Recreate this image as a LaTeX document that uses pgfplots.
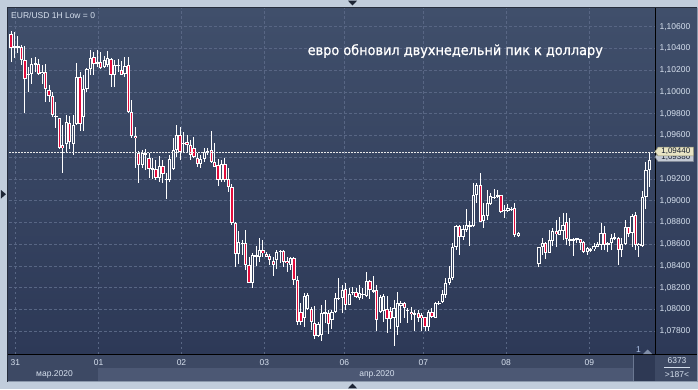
\documentclass[border=0pt]{standalone}
\usepackage{pgfplots}
\pgfplotsset{compat=1.18}
\usepackage{pgfplotstable}
\usepackage{fontspec}
\setmainfont{Liberation Sans}
\newfontfamily\annfont[FakeStretch=0.92, FakeBold=0.8]{DejaVu Sans}

\pgfdeclarelayer{background}
\pgfsetlayers{background,main}

\definecolor{framecol}{RGB}{193,205,220}
\definecolor{bgtop}{RGB}{64,79,107}
\definecolor{bgbot}{RGB}{45,57,87}
\definecolor{timecol}{RGB}{61,73,100}
\definecolor{bandcol}{RGB}{76,88,116}
\definecolor{gridcol}{RGB}{88,102,132}
\definecolor{candlered}{RGB}{226,12,60}
\definecolor{innerup}{RGB}{58,72,101}
\definecolor{innerlo}{RGB}{50,63,92}
\definecolor{labcol}{RGB}{214,224,238}
\definecolor{tagcol}{RGB}{232,228,196}
\definecolor{tagtwo}{RGB}{196,202,212}
\definecolor{darktri}{RGB}{29,37,53}
\definecolor{scrollcol}{RGB}{46,57,84}
\definecolor{scrollline}{RGB}{107,120,146}
\definecolor{borderdark}{RGB}{38,45,60}
\definecolor{borderlight}{RGB}{140,153,172}
\definecolor{pricecol}{RGB}{232,232,232}
\definecolor{onecol}{RGB}{176,196,232}
\definecolor{humpcol}{RGB}{128,142,168}
\definecolor{tagtext}{RGB}{20,28,44}
\definecolor{tagedge}{RGB}{120,128,140}
\definecolor{tagedgeone}{RGB}{138,138,112}

\pgfplotstableread{
k o h l c
0 1.10530 1.10560 1.10272 1.10407
1 1.10413 1.10554 1.10315 1.10419
2 1.10407 1.10514 1.10355 1.10425
3 1.10416 1.10432 1.10248 1.10294
4 1.10294 1.10425 1.09809 1.10125
5 1.10156 1.10232 1.10002 1.10171
6 1.10162 1.10318 1.10079 1.10263
7 1.10254 1.10324 1.10186 1.10263
8 1.10263 1.10309 1.10156 1.10162
9 1.10162 1.10248 1.10079 1.10186
10 1.10180 1.10254 1.09904 1.10027
11 1.10018 1.10064 1.09910 1.09966
12 1.09966 1.10002 1.09773 1.09788
13 1.09782 1.09904 1.09666 1.09770
14 1.09757 1.09763 1.09475 1.09488
15 1.09512 1.09696 1.09258 1.09481
16 1.09518 1.09788 1.09436 1.09720
17 1.09711 1.09782 1.09475 1.09537
18 1.09527 1.09788 1.09420 1.09702
19 1.09702 1.10263 1.09696 1.10140
20 1.10140 1.10186 1.09641 1.09711
21 1.09773 1.10156 1.09641 1.10027
22 1.10027 1.10223 1.10002 1.10211
23 1.10211 1.10386 1.10156 1.10318
24 1.10318 1.10370 1.10156 1.10254
25 1.10263 1.10386 1.10232 1.10270
26 1.10278 1.10370 1.10217 1.10223
27 1.10232 1.10333 1.10217 1.10294
28 1.10248 1.10377 1.10232 1.10315
29 1.10303 1.10315 1.10048 1.10156
30 1.10156 1.10294 1.10048 1.10248
31 1.10242 1.10309 1.10186 1.10248
32 1.10202 1.10284 1.10156 1.10156
33 1.10162 1.10324 1.10140 1.10242
34 1.10248 1.10324 1.09803 1.09813
35 1.09819 1.09926 1.09573 1.09595
36 1.09595 1.09681 1.09304 1.09573
37 1.09436 1.09457 1.09160 1.09328
38 1.09328 1.09466 1.09298 1.09436
39 1.09436 1.09475 1.09282 1.09420
40 1.09396 1.09436 1.09206 1.09292
41 1.09292 1.09389 1.09200 1.09298
42 1.09292 1.09374 1.09190 1.09212
43 1.09212 1.09414 1.09175 1.09322
44 1.09322 1.09374 1.09160 1.09242
45 1.09200 1.09251 1.09021 1.09190
46 1.09190 1.09420 1.09175 1.09389
47 1.09292 1.09573 1.09282 1.09466
48 1.09466 1.09696 1.09405 1.09604
49 1.09604 1.09681 1.09374 1.09445
50 1.09527 1.09635 1.09451 1.09537
51 1.09543 1.09604 1.09451 1.09512
52 1.09512 1.09558 1.09374 1.09420
53 1.09488 1.09589 1.09396 1.09405
54 1.09396 1.09436 1.09313 1.09334
55 1.09334 1.09420 1.09298 1.09380
56 1.09380 1.09481 1.09359 1.09445
57 1.09445 1.09481 1.09420 1.09457
58 1.09466 1.09641 1.09343 1.09359
59 1.09359 1.09527 1.09313 1.09313
60 1.09328 1.09389 1.09138 1.09190
61 1.09190 1.09374 1.09175 1.09343
62 1.09343 1.09389 1.09175 1.09190
63 1.09200 1.09298 1.09083 1.09129
64 1.09129 1.09150 1.08776 1.08792
65 1.08792 1.08807 1.08393 1.08507
66 1.08507 1.08720 1.08415 1.08617
67 1.08610 1.08640 1.08500 1.08605
68 1.08608 1.08730 1.08363 1.08409
69 1.08409 1.08485 1.08246 1.08246
70 1.08246 1.08516 1.08194 1.08500
71 1.08485 1.08583 1.08399 1.08497
72 1.08485 1.08654 1.08439 1.08546
73 1.08546 1.08638 1.08479 1.08516
74 1.08510 1.08531 1.08479 1.08485
75 1.08491 1.08510 1.08409 1.08454
76 1.08448 1.08479 1.08307 1.08409
77 1.08454 1.08546 1.08375 1.08531
78 1.08531 1.08546 1.08424 1.08537
79 1.08537 1.08546 1.08387 1.08439
80 1.08448 1.08485 1.08347 1.08424
81 1.08409 1.08485 1.08363 1.08470
82 1.08470 1.08479 1.08225 1.08271
83 1.08271 1.08307 1.07857 1.07887
84 1.07979 1.08056 1.07857 1.07887
85 1.07918 1.08148 1.07841 1.08123
86 1.08001 1.08148 1.07995 1.08133
87 1.08001 1.08025 1.07811 1.07887
88 1.07878 1.08031 1.07734 1.07759
89 1.07759 1.07887 1.07750 1.07872
90 1.07765 1.08041 1.07713 1.07970
91 1.07964 1.08087 1.07872 1.07970
92 1.07970 1.07995 1.07774 1.07866
93 1.07903 1.07995 1.07817 1.07979
94 1.07979 1.08148 1.07970 1.08102
95 1.08099 1.08286 1.08087 1.08108
96 1.08102 1.08225 1.07970 1.08179
97 1.08185 1.08240 1.07995 1.08041
98 1.08041 1.08203 1.08041 1.08142
99 1.08157 1.08203 1.08133 1.08163
100 1.08163 1.08194 1.08102 1.08111
101 1.08102 1.08225 1.08087 1.08148
102 1.08133 1.08194 1.08093 1.08142
103 1.08123 1.08347 1.08117 1.08261
104 1.08261 1.08271 1.08093 1.08180
105 1.08170 1.08307 1.08148 1.08179
106 1.08179 1.08225 1.07806 1.07907
107 1.07979 1.08133 1.07964 1.08111
108 1.07989 1.08142 1.07887 1.08123
109 1.08001 1.08123 1.07780 1.07909
110 1.07986 1.08025 1.07817 1.07909
111 1.07918 1.08087 1.07667 1.08010
112 1.07835 1.08163 1.07765 1.08056
113 1.08031 1.08078 1.07872 1.08062
114 1.08056 1.08071 1.07918 1.08010
115 1.07995 1.08010 1.07872 1.07989
116 1.07979 1.08025 1.07903 1.07958
117 1.07964 1.07995 1.07806 1.07961
118 1.07970 1.07995 1.07887 1.07918
119 1.07949 1.07964 1.07806 1.07918
120 1.07927 1.07933 1.07806 1.07841
121 1.07841 1.07995 1.07806 1.07979
122 1.07979 1.08010 1.07918 1.07933
123 1.07918 1.08071 1.07918 1.08056
124 1.08050 1.08078 1.08041 1.08062
125 1.08071 1.08179 1.08062 1.08142
126 1.08133 1.08295 1.08102 1.08246
127 1.08240 1.08399 1.08225 1.08292
128 1.08286 1.08614 1.08271 1.08577
129 1.08577 1.08776 1.08546 1.08767
130 1.08767 1.08776 1.08501 1.08669
131 1.08669 1.08776 1.08638 1.08737
132 1.08730 1.08920 1.08715 1.08776
133 1.08767 1.08813 1.08583 1.08776
134 1.08767 1.09166 1.08761 1.09052
135 1.09052 1.09160 1.08976 1.09144
136 1.09144 1.09258 1.08807 1.08807
137 1.08816 1.08976 1.08746 1.08868
138 1.08859 1.09098 1.08822 1.08976
139 1.08970 1.09068 1.08960 1.09043
140 1.09031 1.09104 1.09012 1.09037
141 1.09037 1.09098 1.09022 1.09052
142 1.09052 1.09052 1.08890 1.08899
143 1.08908 1.08960 1.08838 1.08914
144 1.08908 1.08970 1.08899 1.08930
145 1.08920 1.08945 1.08908 1.08926
146 1.08930 1.08976 1.08663 1.08685
147 1.08675 1.08715 1.08669 1.08706
153 1.08418 1.08577 1.08393 1.08571
154 1.08577 1.08654 1.08501 1.08608
155 1.08608 1.08623 1.08461 1.08522
156 1.08522 1.08730 1.08516 1.08638
157 1.08632 1.08746 1.08583 1.08724
158 1.08724 1.08822 1.08571 1.08691
159 1.08685 1.08847 1.08685 1.08730
160 1.08724 1.08890 1.08638 1.08778
161 1.08807 1.08890 1.08593 1.08645
162 1.08638 1.08838 1.08583 1.08645
163 1.08642 1.08654 1.08491 1.08645
164 1.08645 1.08660 1.08608 1.08654
165 1.08645 1.08645 1.08546 1.08614
166 1.08623 1.08632 1.08516 1.08531
167 1.08531 1.08571 1.08501 1.08562
168 1.08559 1.08562 1.08531 1.08546
169 1.08553 1.08608 1.08540 1.08583
170 1.08577 1.08623 1.08571 1.08599
171 1.08593 1.08792 1.08546 1.08706
172 1.08706 1.08767 1.08546 1.08593
173 1.08602 1.08623 1.08531 1.08608
174 1.08608 1.08694 1.08546 1.08654
175 1.08645 1.08706 1.08638 1.08663
176 1.08654 1.08669 1.08409 1.08546
177 1.08546 1.08654 1.08485 1.08602
178 1.08602 1.08822 1.08593 1.08755
179 1.08755 1.08761 1.08669 1.08694
180 1.08700 1.08878 1.08577 1.08859
181 1.08868 1.08899 1.08546 1.08593
182 1.08583 1.08608 1.08485 1.08602
183 1.08583 1.09092 1.08577 1.09031
184 1.09031 1.09354 1.08925 1.09287
185 1.09287 1.09440 1.09124 1.09380
}\candles

\begin{document}
\begin{tikzpicture}
\begin{axis}[
  at={(0pt,0pt)}, anchor=south west,
  scale only axis, width=646bp, height=346bp,
  xmin=-0.6, xmax=186.65, ymin=1.07590, ymax=1.10772,
  axis line style={draw=none},
  major tick length=0pt,
  grid=major,
  major grid style={gridcol, line width=0.8bp, dash pattern=on 2.5bp off 2.5bp},
  xtick={1.23,25.4,49.4,73.4,96.6,119.5,143.5,167.6},
  xticklabels={31,01,02,03,06,07,08,09},
  ytick={1.078,1.080,1.082,1.084,1.086,1.088,1.090,1.092,1.096,1.098,1.100,1.102,1.104,1.106},
  extra y ticks={1.094},
  extra y tick labels={},
  extra tick style={grid=major, major tick length=0pt},
  yticklabel pos=right,
  ticklabel style={font=\fontsize{8.5bp}{10bp}\selectfont, text=labcol},
  yticklabel style={anchor=west, xshift=1bp, /pgf/number format/.cd, fixed, fixed zerofill, precision=5, use comma, 1000 sep={}, assume math mode=true},
  xticklabel style={yshift=-2.5bp},
  clip=true,
]
\coordinate (axSW) at (rel axis cs:0,0);
% wicks
\addplot[draw=none, mark=none, error bars/.cd, y dir=both, y explicit, error mark=none,
  error bar style={draw=white, line width=1bp, solid}]
  table[x=k, y expr={(\thisrow{h}+\thisrow{l})/2}, y error expr={(\thisrow{h}-\thisrow{l})/2}] {\candles};
% body outlines
\addplot[draw=none, mark=none, error bars/.cd, y dir=both, y explicit, error mark=none,
  error bar style={draw=white, line width=3.3bp, solid}]
  table[x=k, y expr={(\thisrow{o}+\thisrow{c})/2}, y error expr={max(abs(\thisrow{o}-\thisrow{c})/2,0.00005)}] {\candles};
% bearish interiors
\addplot[draw=none, mark=none, error bars/.cd, y dir=both, y explicit, error mark=none,
  error bar style={draw=candlered, line width=1.3bp, solid}]
  table[x=k, y expr={(\thisrow{o}+\thisrow{c})/2}, y error expr={(\thisrow{c}<\thisrow{o})*max(abs(\thisrow{o}-\thisrow{c})/2-0.000092,0)}] {\candles};
% bullish interiors (upper)
\addplot[draw=none, mark=none, error bars/.cd, y dir=both, y explicit, error mark=none,
  error bar style={draw=innerup, line width=1.3bp, solid}]
  table[x=k, y expr={(\thisrow{o}+\thisrow{c})/2}, y error expr={(\thisrow{c}>\thisrow{o})*(\thisrow{c}>1.092)*max(abs(\thisrow{o}-\thisrow{c})/2-0.000092,0)}] {\candles};
% bullish interiors (lower)
\addplot[draw=none, mark=none, error bars/.cd, y dir=both, y explicit, error mark=none,
  error bar style={draw=innerlo, line width=1.3bp, solid}]
  table[x=k, y expr={(\thisrow{o}+\thisrow{c})/2}, y error expr={(\thisrow{c}>\thisrow{o})*(1-(\thisrow{c}>1.092))*max(abs(\thisrow{o}-\thisrow{c})/2-0.000092,0)}] {\candles};
% price line
\addplot[pricecol, line width=1bp, dash pattern=on 2bp off 1bp, mark=none]
  coordinates {(-0.6,1.0944) (186.65,1.0944)};
\end{axis}

\begin{scope}[shift={(axSW)}, xshift=-9bp, yshift=-35bp, x=1bp, y=1bp]
\pgfresetboundingbox
\useasboundingbox (0,0) rectangle (698,389);
\begin{pgfonlayer}{background}
% outer frame
\fill[framecol] (0,0) rectangle (698,389);
\fill[darktri] (348,388.3) -- (357,388.3) -- (352.5,383.5) -- cycle;
\fill[darktri] (348,0.7) -- (357,0.7) -- (352.5,5.5) -- cycle;
\fill[darktri] (1,199) -- (1,190.5) -- (6,194.8) -- cycle;
% panels
\shade[top color=bgtop, bottom color=bgbot] (8,35) rectangle (697,381.5);
\fill[timecol] (8,7.5) rectangle (697,35);
\fill[bandcol] (98,8) rectangle (633,21.3);
\fill[scrollcol] (633,8) rectangle (655,34.5);
\draw[scrollline, line width=1bp] (633.5,8) -- (633.5,34.5);
\draw[borderdark, line width=1bp] (7.5,7.5) -- (7.5,381.5) -- (697,381.5);
\draw[borderlight, line width=1bp] (7.5,7.5) -- (697.5,7.5) -- (697.5,381.5);
\end{pgfonlayer}

% separators
\draw[black, line width=1bp] (655,35) -- (655,381);
\draw[black, line width=1bp] (8,35) -- (697,35);

% texts
\node[anchor=base west, inner sep=0, text=labcol, font=\fontsize{8.5bp}{10bp}\selectfont] at (11,370.7) {EUR/USD 1H Low = 0};
\node[anchor=base west, inner sep=0, text=white, font=\annfont\fontsize{14bp}{16bp}\selectfont] at (307.5,334) {евро обновил двухнедельнй пик к доллару};
\node[text=labcol, font=\fontsize{8.5bp}{10bp}\selectfont, inner sep=0] at (54.5,15) {мар.2020};
\node[text=labcol, font=\fontsize{8.5bp}{10bp}\selectfont, inner sep=0] at (377,15) {апр.2020};
\node[text=onecol, font=\fontsize{8.5bp}{10bp}\selectfont, inner sep=0] at (638.5,39.5) {1};
\fill[humpcol] (643,35) -- (647.5,39.5) -- (652,35) -- cycle;
\node[text=labcol, font=\fontsize{8.5bp}{10bp}\selectfont, inner sep=0] at (677,28) {6373};
\draw[labcol, line width=0.7bp] (664,21.3) -- (690,21.3);
\node[text=labcol, font=\fontsize{8.5bp}{10bp}\selectfont, inner sep=0] at (677,14) {>187<};

% price tags
\filldraw[fill=tagtwo, draw=tagedge, line width=0.5bp] (655,232) -- (658,236.5) -- (693.5,236.5) -- (693.5,227.5) -- (658,227.5) -- cycle;
\node[text=tagtext, font=\fontsize{8bp}{9bp}\selectfont, inner sep=0] at (675.8,232) {1,09380};
\filldraw[fill=tagcol, draw=tagedgeone, line width=0.5bp] (655,237.5) -- (658,241.8) -- (693.5,241.8) -- (693.5,233.2) -- (658,233.2) -- cycle;
\node[text=tagtext, font=\fontsize{8bp}{9bp}\selectfont, inner sep=0] at (675.8,237.5) {1,09440};
\end{scope}
\end{tikzpicture}
\end{document}
